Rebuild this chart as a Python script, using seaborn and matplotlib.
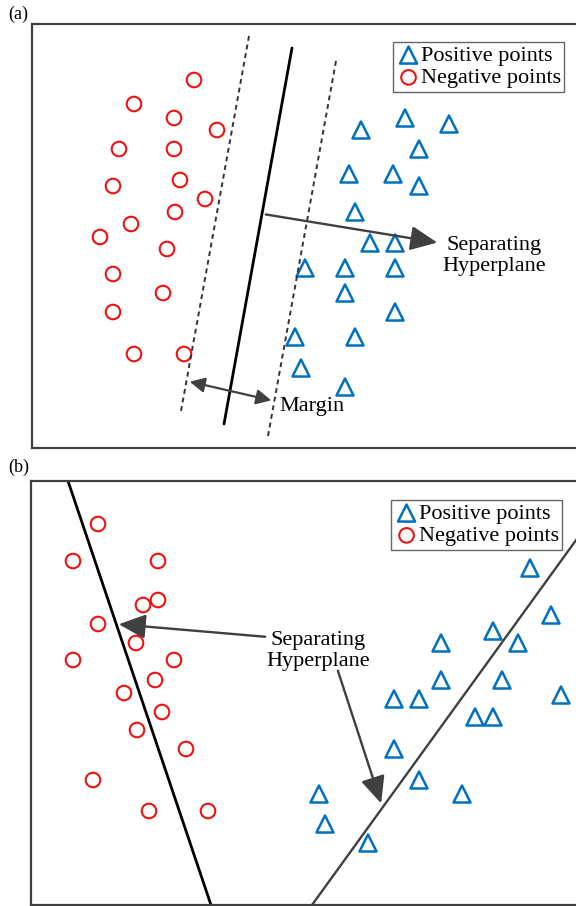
import numpy as np
import matplotlib
matplotlib.use("Agg")
import matplotlib.pyplot as plt
import seaborn as sns

# point positions (pixel units, y grows downward)
neg_a_x = [194, 134, 174, 217, 119, 174, 113, 180, 205, 131, 175, 100, 167, 113, 163, 113, 134, 184]
neg_a_y = [80, 104, 118, 130, 149, 149, 186, 180, 199, 224, 212, 237, 249, 274, 293, 312, 354, 354]
pos_a_x = [405, 361, 449, 419, 349, 393, 419, 355, 370, 395, 305, 345, 395, 345, 395, 295, 355, 301, 345]
pos_a_y = [118, 130, 124, 149, 174, 174, 186, 212, 243, 243, 268, 268, 268, 293, 312, 337, 337, 368, 387]

neg_b_x = [98, 73, 158, 143, 158, 98, 136, 73, 174, 155, 124, 162, 137, 186, 93, 149, 208]
neg_b_y = [524, 561, 561, 605, 600, 624, 643, 660, 660, 680, 693, 712, 730, 749, 780, 811, 811]
pos_b_x = [530, 551, 493, 441, 518, 441, 502, 561, 394, 419, 475, 493, 394, 419, 462, 319, 325, 368]
pos_b_y = [568, 615, 631, 643, 643, 680, 680, 695, 699, 699, 717, 717, 749, 780, 794, 794, 824, 843]

# separating lines
hyper_a = ([292, 224], [48, 424])
margin_left_a = ([249, 181], [36, 411])
margin_right_a = ([336, 268], [61, 436])
hyper_b1 = ([68, 211], [481, 905])
hyper_b2 = ([312, 600], [905, 507])

BLUE = "#0070C0"
RED = "#F01010"
GRAY = "#404040"

sns.set_style("white")
plt.rcParams["font.family"] = ["Liberation Serif", "DejaVu Serif"]
plt.rcParams["text.color"] = "black"

W, H = 576, 906
fig = plt.figure(figsize=(W / 100, H / 100), dpi=100)

def make_axes(left, top, bottom, right=610):
    ax = fig.add_axes([left / W, 1 - bottom / H, (right - left) / W, (bottom - top) / H])
    ax.set_xlim(left, right)
    ax.set_ylim(bottom, top)
    ax.set_xticks([])
    ax.set_yticks([])
    for sp in ax.spines.values():
        sp.set_color(GRAY)
        sp.set_linewidth(1.6)
    return ax

def draw_points(ax, px, py, nx, ny):
    sns.scatterplot(x=px, y=py, ax=ax, marker="^", s=150, facecolor="none",
                    edgecolor=BLUE, linewidth=1.8, label="Positive points")
    sns.scatterplot(x=nx, y=ny, ax=ax, marker="o", s=110, facecolor="none",
                    edgecolor=RED, linewidth=1.5, label="Negative points")

def add_legend(ax, x0, y0):
    leg = ax.legend(loc="upper left", bbox_to_anchor=(x0 / W, 1 - y0 / H),
                    bbox_transform=fig.transFigure, fontsize=16, frameon=True,
                    fancybox=False, handletextpad=0.0, borderpad=0.15,
                    labelspacing=0.08, handlelength=1.1, borderaxespad=0)
    leg.get_frame().set_edgecolor(GRAY)
    leg.get_frame().set_linewidth(1.0)
    for t in leg.get_texts():
        t.set_color("black")

big_head = dict(arrowstyle="-|>,head_length=0.55,head_width=0.25",
                mutation_scale=30, color=GRAY, lw=1.7)

# ---- panel (a)
ax1 = make_axes(32, 24, 448)
draw_points(ax1, pos_a_x, pos_a_y, neg_a_x, neg_a_y)
ax1.plot(*hyper_a, color="black", lw=2.0)
ax1.plot(*margin_left_a, color="#333333", lw=1.4, ls=(0, (2.5, 2)))
ax1.plot(*margin_right_a, color="#333333", lw=1.4, ls=(0, (2.5, 2)))
ax1.annotate("", xy=(440, 243), xytext=(263, 214), arrowprops=big_head)
ax1.text(494, 256, "Separating\nHyperplane", ha="center", va="center",
         fontsize=16, linespacing=1.2)
ax1.annotate("", xy=(274, 401), xytext=(187, 381),
             arrowprops=dict(arrowstyle="<|-|>,head_length=0.5,head_width=0.25",
                             mutation_scale=18, color=GRAY, lw=1.6))
ax1.text(279, 407, "Margin", ha="left", va="center", fontsize=16)
add_legend(ax1, 393, 42)

# ---- panel (b)
ax2 = make_axes(31, 481, 905)
draw_points(ax2, pos_b_x, pos_b_y, neg_b_x, neg_b_y)
ax2.plot(*hyper_b1, color="black", lw=2.0)
ax2.plot(*hyper_b2, color=GRAY, lw=1.7)
ax2.annotate("", xy=(116, 624), xytext=(268, 637), arrowprops=big_head)
ax2.annotate("", xy=(382, 806), xytext=(337, 668), arrowprops=big_head)
ax2.text(318, 651, "Separating\nHyperplane", ha="center", va="center",
         fontsize=16, linespacing=1.2)
add_legend(ax2, 391, 500)

fig.text(8 / W, 1 - 14 / H, "(a)", fontsize=13, va="center", ha="left")
fig.text(8 / W, 1 - 467 / H, "(b)", fontsize=13, va="center", ha="left")

fig.savefig("out.png", dpi=100)
